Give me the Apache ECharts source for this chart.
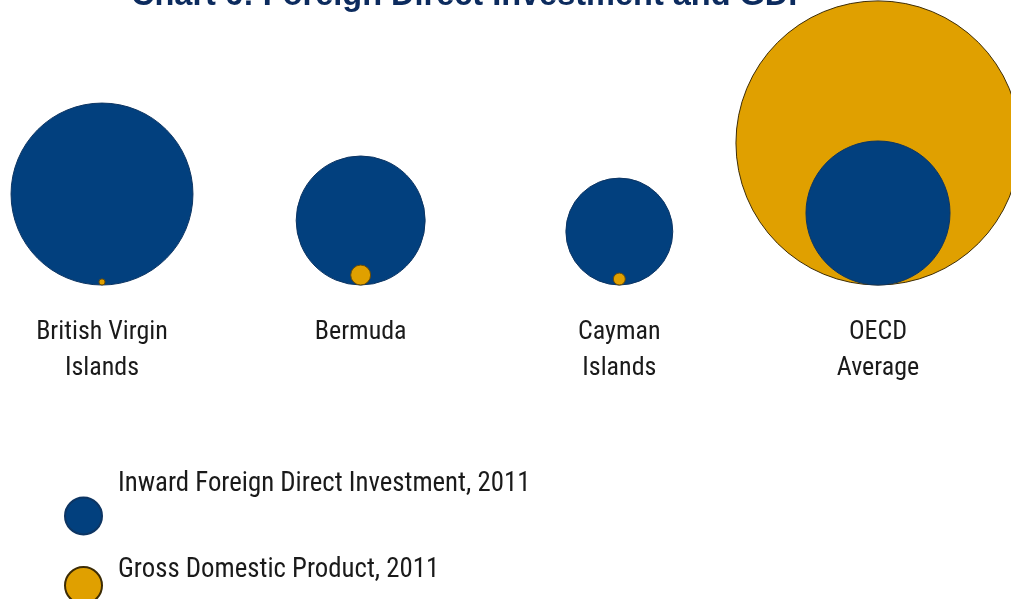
<!DOCTYPE html>
<html>
<head>
<meta charset="utf-8">
<script src="https://cdn.jsdelivr.net/npm/echarts@6/dist/echarts.min.js"></script>
<style>
  html, body { margin: 0; padding: 0; background: #ffffff; }
  #chart { width: 1011px; height: 599px; }
</style>
</head>
<body>
<div id="chart"></div>
<script>
// Economies compared
const categories = ['British Virgin\nIslands', 'Bermuda', 'Cayman\nIslands', 'OECD\nAverage'];
// Inward FDI stock, 2011 (USD bn)
const fdiValues = [533, 268, 184, 334];
// Gross domestic product, 2011 (USD bn)
const gdpValues = [0.6, 6.4, 2.3, 1300];

const FDI_NAME = 'Inward Foreign Direct Investment, 2011';
const GDP_NAME = 'Gross Domestic Product, 2011';

const BLUE = '#02407e';
const GOLD = '#e0a000';
const NARROW = '"Roboto Condensed", "Liberation Sans Narrow", sans-serif';

// Bubble area is proportional to the value
const RADIUS_PER_SQRT = 3.94;
const bubbleSize = (v) => 2 * RADIUS_PER_SQRT * Math.sqrt(v);

// Within each economy the larger bubble goes behind the smaller one,
// so every measure is split into a back layer and a front layer.
function layer(values, others, back) {
  const out = [];
  values.forEach((v, i) => {
    const isLarger = v >= others[i];
    if (isLarger === back) out.push([i, 0, v]);
  });
  return out;
}

function bubbleSeries(name, values, others, back, color, border) {
  return {
    type: 'scatter',
    name: name,
    data: layer(values, others, back),
    z: back ? 2 : 3,
    clip: false,
    symbol: 'circle',
    symbolSize: (val) => bubbleSize(val[2]),
    symbolOffset: [0, '-50%'],
    itemStyle: { color: color, borderColor: border, borderWidth: 1, opacity: 1 },
    emphasis: { disabled: true },
    silent: true
  };
}

// Legend entry whose text sits above the middle of its marker:
// an empty second line of the given height pushes the label upward.
function legendEntry(name, top, lift) {
  return {
    data: [name],
    orient: 'vertical',
    left: 59,
    top: top,
    itemWidth: 37,
    itemHeight: 37,
    icon: 'circle',
    selectedMode: false,
    formatter: (n) => '{t|' + n + '}\n{g|}',
    textStyle: {
      padding: [0, 0, 0, 11],
      rich: {
        t: { fontFamily: NARROW, fontSize: 26.8, lineHeight: 30, color: '#1a1a1a' },
        g: { lineHeight: lift, fontSize: 1 }
      }
    }
  };
}

const chart = echarts.init(document.getElementById('chart'), null, { renderer: 'canvas' });

chart.setOption({
  animation: false,
  backgroundColor: '#ffffff',
  title: {
    text: 'Chart 6: Foreign Direct Investment and GDP',
    left: 126,
    top: -25,
    textStyle: {
      fontFamily: '"Liberation Sans", Arial, sans-serif',
      fontWeight: 'bold',
      fontSize: 32.5,
      color: '#0c2b5e'
    }
  },
  legend: [
    legendEntry(FDI_NAME, 466, 63),
    legendEntry(GDP_NAME, 551.5, 31)
  ],
  grid: { left: 102, right: 133, top: 0, bottom: 314 },
  xAxis: {
    type: 'category',
    data: categories,
    boundaryGap: false,
    axisLine: { show: false },
    axisTick: { show: false },
    splitLine: { show: false },
    axisLabel: {
      margin: 29,
      fontFamily: NARROW,
      fontSize: 26,
      lineHeight: 36,
      color: '#1a1a1a',
      interval: 0
    }
  },
  yAxis: { type: 'value', min: 0, max: 1, show: false },
  series: [
    bubbleSeries(FDI_NAME, fdiValues, gdpValues, true, BLUE, '#0d3563'),
    bubbleSeries(GDP_NAME, gdpValues, fdiValues, true, GOLD, '#3d2c05'),
    bubbleSeries(FDI_NAME, fdiValues, gdpValues, false, BLUE, '#0d3563'),
    bubbleSeries(GDP_NAME, gdpValues, fdiValues, false, GOLD, '#6b4c05')
  ]
});
</script>
</body>
</html>
